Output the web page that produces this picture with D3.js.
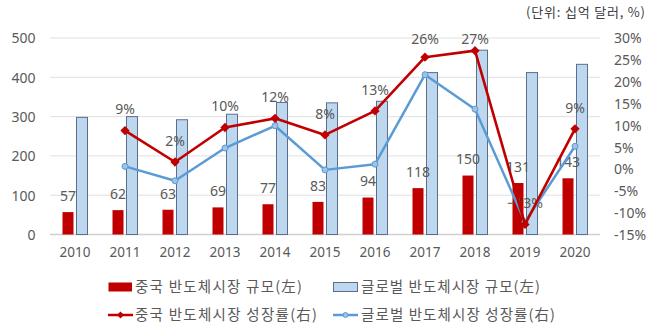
<!DOCTYPE html>
<html><head><meta charset="utf-8">
<script src="https://cdn.jsdelivr.net/npm/d3@7"></script>
<style>body{margin:0;background:#fff}svg{display:block}text{font-family:"Noto Sans","Noto Sans CJK KR",sans-serif}.kr{font-family:"Noto Sans CJK KR","Noto Sans",sans-serif}</style>
</head><body><svg id="c" width="656" height="331"></svg>
<script>
const years = ["2010","2011","2012","2013","2014","2015","2016","2017","2018","2019","2020"];
const chinaMarket = [57,62,63,69,77,83,94,118,150,131,143];
const globalMarket = [298,300,292,306,336,335,339,412,469,412,433];
const chinaGrowth = [null,8.8,1.6,9.5,11.6,7.8,13.3,25.6,27.1,-12.7,9.2];
const globalGrowth = [null,0.6,-2.7,4.8,9.9,-0.2,1.1,21.6,13.7,-12.1,5.2];
const leftTicks = [0,100,200,300,400,500];
const rightTicks = [-15,-10,-5,0,5,10,15,20,25,30];
const seriesNames = ["중국 반도체시장 규모(左)","글로벌 반도체시장 규모(左)","중국 반도체시장 성장률(右)","글로벌 반도체시장 성장률(右)"];
const unitText = "(단위: 십억 달러, %)";

const RED="#C00000", LBLUE="#BDD7EE", BSTROKE="#5B6F8C", LINEBLUE="#5B9BD5", TXT="#595959";
const svg = d3.select("#c");
const x = d3.scaleBand().domain(years).range([50,600]);
const yL = d3.scaleLinear().domain([0,500]).range([234.5,38]);
const yR = d3.scaleLinear().domain([-15,30]).range([234.5,38]);

// grid
svg.append("g").selectAll("line").data(leftTicks).join("line")
  .attr("x1",50).attr("x2",600).attr("y1",d=>yL(d)).attr("y2",d=>yL(d))
  .attr("stroke",d=>d===0?"#d0d0d0":"#e0e0e0").attr("stroke-width",d=>d===0?1.5:1);

// left axis
const axL = svg.append("g").attr("transform","translate(35.5,0)")
  .call(d3.axisLeft(yL).tickValues(leftTicks).tickSize(0).tickPadding(0));
axL.select(".domain").remove();
axL.selectAll("text").attr("fill",TXT).style("font-size","14px").style("font-family","Noto Sans").attr("dy","0.35em");
// right axis
const axR = svg.append("g").attr("transform","translate(614,0)")
  .call(d3.axisRight(yR).tickValues(rightTicks).tickSize(0).tickPadding(0).tickFormat(d=>d+"%"));
axR.select(".domain").remove();
axR.selectAll("text").attr("fill",TXT).style("font-size","14px").style("font-family","Noto Sans").attr("dy","0.35em");
// x axis
const axX = svg.append("g").attr("transform","translate(0,249)")
  .call(d3.axisBottom(x).tickSize(0).tickPadding(0));
axX.select(".domain").remove();
axX.selectAll("text").attr("fill",TXT).style("font-size","13.5px").style("font-family","Noto Sans").attr("dy","0.6em");

const cx = d => x(d)+x.bandwidth()/2;
// bars
svg.append("g").selectAll("rect").data(years).join("rect")
  .attr("x",d=>cx(d)-12.5).attr("width",11)
  .attr("y",(d,i)=>yL(chinaMarket[i])).attr("height",(d,i)=>yL(0)-yL(chinaMarket[i]))
  .attr("fill",RED);
svg.append("g").selectAll("rect").data(years).join("rect")
  .attr("x",d=>cx(d)+1.5).attr("width",11)
  .attr("y",(d,i)=>yL(globalMarket[i])).attr("height",(d,i)=>yL(0)-yL(globalMarket[i]))
  .attr("fill",LBLUE).attr("stroke",BSTROKE).attr("stroke-width",1);

// bar labels
svg.append("g").selectAll("text").data(years).join("text")
  .attr("x",d=>cx(d)-7).attr("y",(d,i)=>yL(chinaMarket[i])-16).attr("dy","0.35em")
  .attr("text-anchor","middle").attr("fill",TXT).style("font-size","14px")
  .text((d,i)=>chinaMarket[i]);

const idx = d3.range(1,years.length);
// growth labels
svg.append("g").selectAll("text").data(idx).join("text")
  .attr("x",i=>cx(years[i])).attr("y",i=>Math.max(39.5,yR(chinaGrowth[i])-21)).attr("dy","0.35em")
  .attr("text-anchor","middle").attr("fill",TXT).style("font-size","14px")
  .text(i=>d3.format(".0f")(chinaGrowth[i])+"%");

// lines
const line = arr => d3.line().x(i=>cx(years[i])).y(i=>yR(arr[i]))(idx);
svg.append("path").attr("d",line(globalGrowth)).attr("fill","none").attr("stroke",LINEBLUE).attr("stroke-width",2.5).attr("stroke-linejoin","round");
svg.append("g").selectAll("circle").data(idx).join("circle")
  .attr("cx",i=>cx(years[i])).attr("cy",i=>yR(globalGrowth[i])).attr("r",3)
  .attr("fill","#9DC3E6").attr("stroke",LINEBLUE).attr("stroke-width",1);
svg.append("path").attr("d",line(chinaGrowth)).attr("fill","none").attr("stroke",RED).attr("stroke-width",2.6).attr("stroke-linejoin","round");
const diamond = d3.symbol().type(d3.symbolDiamond2).size(55);
svg.append("g").selectAll("path").data(idx).join("path")
  .attr("transform",i=>`translate(${cx(years[i])},${yR(chinaGrowth[i])})`)
  .attr("d",diamond()).attr("fill",RED);

// unit
svg.append("text").attr("class","kr").attr("x",526).attr("y",12).attr("dy","0.35em")
  .attr("textLength",119).attr("lengthAdjust","spacing")
  .attr("fill","#404040").style("font-size","13px").text(unitText);

// legend
const lg = svg.append("g");
const items = [
  {x:108,y:287,type:"bar",fill:RED,tx:135,tw:167},
  {x:333,y:287,type:"bar",fill:LBLUE,stroke:BSTROKE,tx:361,tw:179},
  {x:108,y:315,type:"line",color:RED,marker:"diamond",tx:135,tw:182},
  {x:333,y:315,type:"line",color:LINEBLUE,marker:"circle",tx:361,tw:194}
];
items.forEach((it,k)=>{
  if(it.type==="bar"){
    lg.append("rect").attr("x",it.x+0.5).attr("y",it.y-4.5).attr("width",it.stroke?24:23.5).attr("height",9)
      .attr("fill",it.fill).attr("stroke",it.stroke||"none");
  } else {
    lg.append("line").attr("x1",it.x).attr("x2",it.x+25).attr("y1",it.y).attr("y2",it.y)
      .attr("stroke",it.color).attr("stroke-width",2.5);
    if(it.marker==="diamond") lg.append("path").attr("transform",`translate(${it.x+12.5},${it.y})`).attr("d",d3.symbol().type(d3.symbolDiamond2).size(30)()).attr("fill",it.color);
    else lg.append("circle").attr("cx",it.x+12.5).attr("cy",it.y).attr("r",2.5).attr("fill","#9DC3E6").attr("stroke",it.color);
  }
  lg.append("text").attr("class","kr").attr("x",it.tx).attr("y",it.y).attr("dy","0.35em").attr("fill",TXT)
    .attr("textLength",it.tw).attr("lengthAdjust","spacing")
    .style("font-size","14.5px").text(seriesNames[k]);
});
</script></body></html>
